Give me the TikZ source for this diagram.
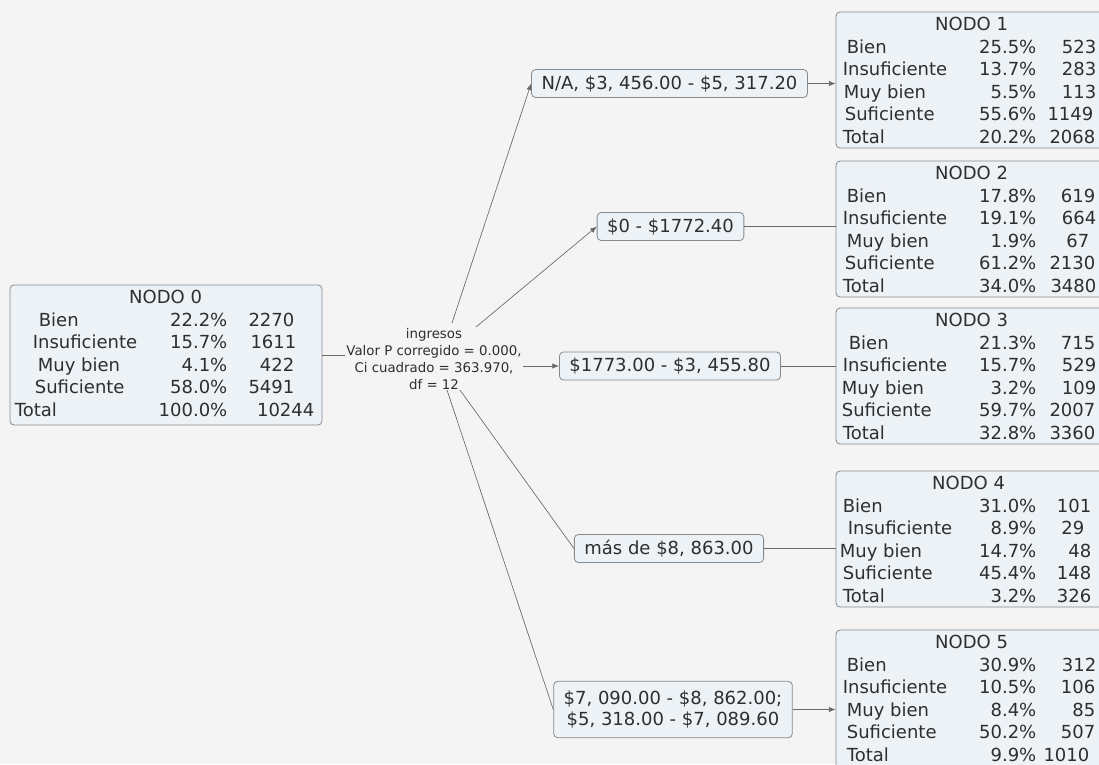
\documentclass[tikz,border=0pt]{standalone}
\usepackage{fontspec}
\setmainfont{DejaVu Sans}
\usetikzlibrary{arrows.meta, positioning, fit, calc}
\definecolor{fondo}{HTML}{F4F4F4}
\definecolor{caja}{HTML}{EDF2F6}
\definecolor{borde}{HTML}{858A8E}
\definecolor{texto}{HTML}{2E2E2E}
\definecolor{trazo}{HTML}{6A6A6A}

\begin{document}
\begin{tikzpicture}[
  x=0.75pt, y=-0.75pt,
  tabla/.style={draw=borde, fill=caja, rounded corners=3pt, inner sep=0pt, line width=0.6pt},
  rama/.style={draw=borde, fill=caja, rounded corners=3pt, inner xsep=7.5pt, inner ysep=0pt,
    minimum height=21pt, align=center, font=\fontsize{13.5}{16}\selectfont, text=texto, line width=0.6pt},
  fila/.style={inner sep=0pt, font=\fontsize{13.5}{16}\selectfont, text=texto},
  linea/.style={draw=trazo, line width=0.5pt},
  flecha/.style={linea, -{Latex[length=5pt,width=4pt]}},
]
\useasboundingbox (0,0) rectangle (1099,764);
\clip (0,0) rectangle (1099,764);
\fill[fondo] (0,0) rectangle (1099,764);

% nodo raiz
\node[tabla, fit={(10,285) (322,425)}] (n0) {};
\node[fila, anchor=base] (n0-t) at ($(n0.north west)+(156,19)$) {NODO 0};
\foreach \dx/\lab/\pct/\cnt/\cx [count=\i] in {
  29/Bien/22.2\%/2270/285,
  23/Insuficiente/15.7\%/1611/287,
  28/Muy bien/4.1\%/422/285,
  25/Suficiente/58.0\%/5491/285,
  5/Total/100.0\%/10244/305}{
  \node[fila, anchor=base west] (n0-l\i) at ($(n0.north west)+(\dx,19+22.5*\i)$) {\lab};
  \node[fila, anchor=base east] (n0-p\i) at ($(n0.north west)+(218,19+22.5*\i)$) {\pct};
  \node[fila, anchor=base east] (n0-c\i) at ($(n0.north west)+(\cx,19+22.5*\i)$) {\cnt};
}

% variable de corte
\node[inner sep=1pt, align=center, text=texto, font=\fontsize{10}{12.75}\selectfont] (split) at (434,359)
  {ingresos\\Valor P corregido = 0.000,\\Ci cuadrado = 363.970,\\df = 12};

% ramas
\node[rama] (na) at (669.5,83.5) {N/A, \$3, 456.00 - \$5, 317.20};
\node[rama] (b2) at (670.5,226.5) {\$0 - \$1772.40};
\node[rama] (b3) at (670,366) {\$1773.00 - \$3, 455.80};
\node[rama] (b4) at (669,548.5) {más de \$8, 863.00};
\node[rama, inner ysep=7pt] (b5) at (673,709.5) {\$7, 090.00 - \$8, 862.00;\\\$5, 318.00 - \$7, 089.60};

% nodos hijos
\node[tabla, fit={(836,12) (1120,148)}] (n1) {};
\node[fila, anchor=base] (n1-t) at ($(n1.north west)+(136,19)$) {NODO 1};
\foreach \dx/\lab/\pct/\cnt/\cx [count=\i] in {
  11/Bien/25.5\%/523/261,
  7/Insuficiente/13.7\%/283/261,
  8/Muy bien/5.5\%/113/261,
  9/Suficiente/55.6\%/1149/258,
  7/Total/20.2\%/2068/260}{
  \node[fila, anchor=base west] (n1-l\i) at ($(n1.north west)+(\dx,19+22.5*\i)$) {\lab};
  \node[fila, anchor=base east] (n1-p\i) at ($(n1.north west)+(201,19+22.5*\i)$) {\pct};
  \node[fila, anchor=base east] (n1-c\i) at ($(n1.north west)+(\cx,19+22.5*\i)$) {\cnt};
}

\node[tabla, fit={(836,161) (1120,297)}] (n2) {};
\node[fila, anchor=base] (n2-t) at ($(n2.north west)+(136,19)$) {NODO 2};
\foreach \dx/\lab/\pct/\cnt/\cx [count=\i] in {
  11/Bien/17.8\%/619/260,
  7/Insuficiente/19.1\%/664/261,
  11/Muy bien/1.9\%/67/254,
  9/Suficiente/61.2\%/2130/260,
  7/Total/34.0\%/3480/261}{
  \node[fila, anchor=base west] (n2-l\i) at ($(n2.north west)+(\dx,19+22.5*\i)$) {\lab};
  \node[fila, anchor=base east] (n2-p\i) at ($(n2.north west)+(201,19+22.5*\i)$) {\pct};
  \node[fila, anchor=base east] (n2-c\i) at ($(n2.north west)+(\cx,19+22.5*\i)$) {\cnt};
}

\node[tabla, fit={(836,308) (1120,444)}] (n3) {};
\node[fila, anchor=base] (n3-t) at ($(n3.north west)+(136,19)$) {NODO 3};
\foreach \dx/\lab/\pct/\cnt/\cx [count=\i] in {
  13/Bien/21.3\%/715/260,
  7/Insuficiente/15.7\%/529/261,
  6/Muy bien/3.2\%/109/261,
  6/Suficiente/59.7\%/2007/260,
  7/Total/32.8\%/3360/260}{
  \node[fila, anchor=base west] (n3-l\i) at ($(n3.north west)+(\dx,19+22.5*\i)$) {\lab};
  \node[fila, anchor=base east] (n3-p\i) at ($(n3.north west)+(201,19+22.5*\i)$) {\pct};
  \node[fila, anchor=base east] (n3-c\i) at ($(n3.north west)+(\cx,19+22.5*\i)$) {\cnt};
}

\node[tabla, fit={(836,471) (1120,607)}] (n4) {};
\node[fila, anchor=base] (n4-t) at ($(n4.north west)+(133,19)$) {NODO 4};
\foreach \dx/\lab/\pct/\cnt/\cx [count=\i] in {
  7/Bien/31.0\%/101/256,
  12/Insuficiente/8.9\%/29/249,
  4/Muy bien/14.7\%/48/256,
  7/Suficiente/45.4\%/148/256,
  7/Total/3.2\%/326/256}{
  \node[fila, anchor=base west] (n4-l\i) at ($(n4.north west)+(\dx,19+22.5*\i)$) {\lab};
  \node[fila, anchor=base east] (n4-p\i) at ($(n4.north west)+(201,19+22.5*\i)$) {\pct};
  \node[fila, anchor=base east] (n4-c\i) at ($(n4.north west)+(\cx,19+22.5*\i)$) {\cnt};
}

\node[tabla, fit={(836,630) (1120,780)}] (n5) {};
\node[fila, anchor=base] (n5-t) at ($(n5.north west)+(136,19)$) {NODO 5};
\foreach \dx/\lab/\pct/\cnt/\cx [count=\i] in {
  11/Bien/30.9\%/312/261,
  7/Insuficiente/10.5\%/106/260,
  11/Muy bien/8.4\%/85/260,
  11/Suficiente/50.2\%/507/260,
  11/Total/9.9\%/1010/254}{
  \node[fila, anchor=base west] (n5-l\i) at ($(n5.north west)+(\dx,19+22.5*\i)$) {\lab};
  \node[fila, anchor=base east] (n5-p\i) at ($(n5.north west)+(201,19+22.5*\i)$) {\pct};
  \node[fila, anchor=base east] (n5-c\i) at ($(n5.north west)+(\cx,19+22.5*\i)$) {\cnt};
}

% conectores
\coordinate (s1) at (452,323);
\coordinate (s2) at (476,327);
\coordinate (s4) at (460,390);
\coordinate (s5) at (447,390);
\draw[linea] (n0.east) -- (n0.east -| split.west);
\draw[flecha] (s1) -- (na.west);
\draw[flecha] (s2) -- (b2.west);
\draw[flecha] (b3.west -| split.east) -- (b3.west);
\draw[linea] (s4) -- (b4.west);
\draw[linea] (s5) -- (b5.west);
\draw[flecha] (na.east) -- (na.east -| n1.west);
\draw[linea] (b2.east) -- (b2.east -| n2.west);
\draw[linea] (b3.east) -- (b3.east -| n3.west);
\draw[linea] (b4.east) -- (b4.east -| n4.west);
\draw[flecha] (b5.east) -- (b5.east -| n5.west);
\end{tikzpicture}
\end{document}
